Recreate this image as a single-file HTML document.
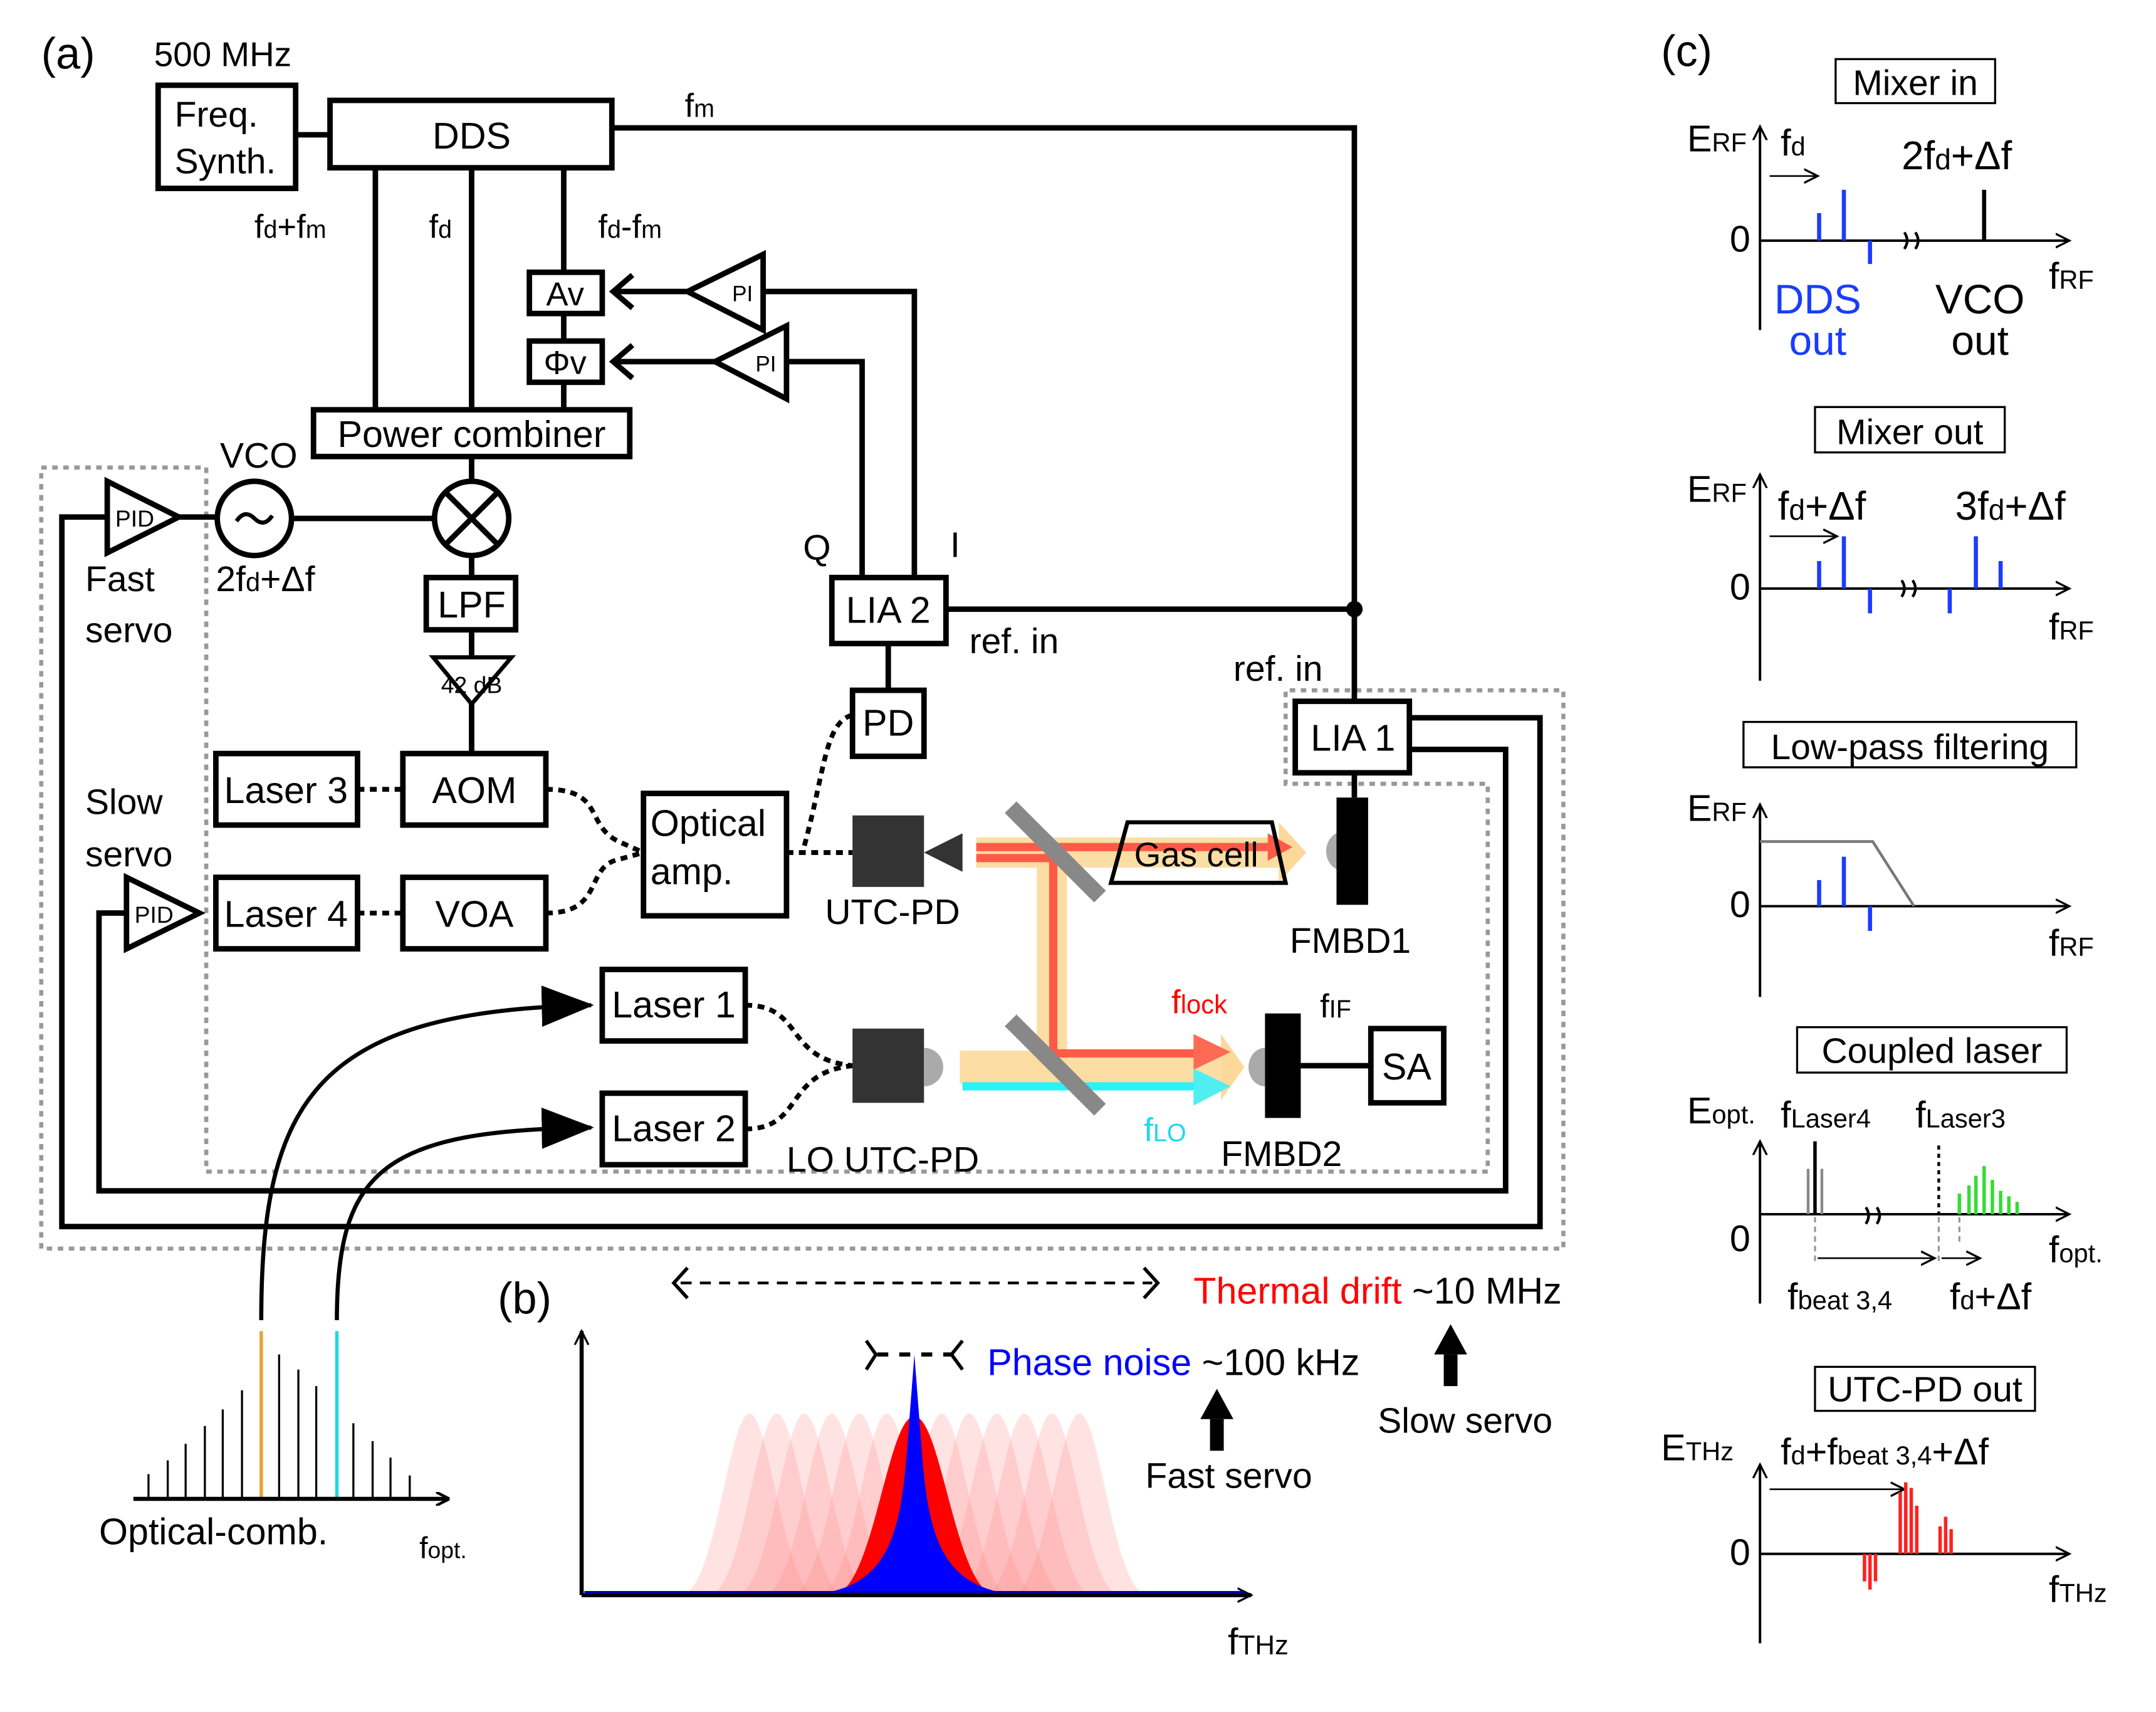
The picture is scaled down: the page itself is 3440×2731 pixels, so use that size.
<!DOCTYPE html>
<html><head><meta charset="utf-8"><style>
html,body{margin:0;padding:0;background:#fff}
svg{display:block}
text{font-family:"Liberation Sans","DejaVu Sans",sans-serif;fill:#000}
</style></head><body>
<svg width="3440" height="2731" viewBox="0 0 1568 1245" preserveAspectRatio="none" xmlns="http://www.w3.org/2000/svg">
<defs>
<marker id="ah" markerWidth="10" markerHeight="10" refX="8" refY="5" orient="auto" markerUnits="userSpaceOnUse"><path d="M0,0 L10,5 L0,10" fill="none" stroke="#000" stroke-width="2"/></marker>
<marker id="ahs" markerWidth="12" markerHeight="12" refX="10" refY="6" orient="auto" markerUnits="userSpaceOnUse"><path d="M0,1 L10,6 L0,11" fill="none" stroke="#000" stroke-width="1.5"/></marker>
<marker id="ahf" markerWidth="40" markerHeight="30" refX="36" refY="15" orient="auto" markerUnits="userSpaceOnUse"><path d="M0,0 L38,15 L0,30 Z" fill="#000"/></marker>
</defs>
<rect width="1568" height="1245" fill="#fff"/>

<!-- dotted outline -->
<path d="M30,340 H150 V852 H1082 V570 H935 V502 H1137 V908 H30 Z" fill="none" stroke="#999" stroke-width="3" stroke-dasharray="4,4"/>

<g fill="none" stroke="#000" stroke-width="4">
<!-- boxes -->
<rect x="115" y="62" width="100" height="75"/>
<rect x="240" y="73" width="205" height="49"/>
<rect x="385" y="198" width="53" height="30"/>
<rect x="385" y="248" width="53" height="30"/>
<rect x="228" y="298" width="230" height="34"/>
<rect x="310" y="420" width="65" height="38"/>
<rect x="157" y="548" width="103" height="52"/>
<rect x="293" y="548" width="104" height="52"/>
<rect x="157" y="638" width="103" height="52"/>
<rect x="293" y="638" width="104" height="52"/>
<rect x="468" y="577" width="104" height="89"/>
<rect x="620" y="502" width="52" height="48"/>
<rect x="605" y="420" width="83" height="48"/>
<rect x="942" y="510" width="83" height="52"/>
<rect x="438" y="705" width="104" height="52"/>
<rect x="438" y="795" width="104" height="52"/>
<rect x="997" y="748" width="53" height="54"/>
<!-- lines -->
<path d="M215,98 H240"/>
<path d="M445,93 H985 V510"/>
<path d="M273,122 V298 M343,122 V298 M410,122 V198 M410,228 V248 M410,278 V298"/>
<path d="M343,332 V350 M343,404 V420 M343,458 V478 M343,510 V548"/>
<path d="M212,377 H316 M130,376 H158"/>
<path d="M555,212 H665 V420 M572,263 H627 V420"/>
<path d="M500,212 H446 M520,263 H446"/>
<path d="M646,468 V502"/>
<path d="M688,443 H985"/>
<path d="M985,562 V580"/>
<path d="M946,775 H997"/>
<path d="M1025,522 H1120 V892 H45 V376 H78"/>
<path d="M1025,545 H1095 V866 H72 V664 H92"/>
<!-- triangles -->
<path d="M500,212 L555,185 L555,240 Z" fill="#fff"/>
<path d="M520,263 L572,237 L572,290 Z" fill="#fff"/>
<path d="M78,350 L78,402 L130,376 Z" fill="#fff"/>
<path d="M92,638 L92,690 L145,664 Z" fill="#fff"/>
<path d="M315,478 L372,478 L343,512 Z" fill="#fff" stroke-width="3"/>
<!-- circles -->
<circle cx="185" cy="377" r="27"/>
<circle cx="343" cy="377" r="27"/>
<path d="M324,358 L362,396 M362,358 L324,396"/>
<path d="M172,379 Q178,370 185,377 Q192,384 198,375" stroke-width="3"/>
</g>
<!-- arrowheads Av/Phi -->
<path d="M460,200 L446,212 L460,224 M460,251 L446,263 L460,275" fill="none" stroke="#000" stroke-width="4"/>
<circle cx="985" cy="443" r="6" fill="#000"/>

<!-- dotted optical fibers -->
<g fill="none" stroke="#000" stroke-width="3.5" stroke-dasharray="5,4">
<path d="M260,574 H293"/>
<path d="M260,664 H293"/>
<path d="M397,574 C440,574 425,600 450,612 L468,620"/>
<path d="M397,664 C440,664 425,630 450,625 L468,620"/>
<path d="M572,620 H620"/>
<path d="M585,615 C600,560 600,525 620,520"/>
<path d="M542,731 C585,731 570,770 620,775"/>
<path d="M542,821 C585,821 570,780 620,775"/>
</g>

<!-- beams -->
<g>
<rect x="710" y="609" width="220" height="22" fill="#fcd99a" opacity="0.9"/>
<path d="M930,598 L950,620 L930,642 Z" fill="#fcd99a"/>
<rect x="754" y="620" width="22" height="155" fill="#fcd99a" opacity="0.9"/>
<rect x="698" y="764" width="190" height="24" fill="#fcd99a" opacity="0.9"/>
<path d="M888,752 L905,776 L888,800 Z" fill="#fcd99a"/>
<rect x="710" y="613" width="215" height="6" fill="#ff5a48"/>
<path d="M922,606 L940,616 L922,626 Z" fill="#ff5a48"/>
<path d="M710,624 H766 V766 H870" fill="none" stroke="#ff5a48" stroke-width="6"/>
<path d="M868,752 L895,765 L868,778 Z" fill="#ff6a55"/>
<rect x="700" y="787" width="172" height="6" fill="#2ef0f8"/>
<path d="M868,777 L895,790 L868,804 Z" fill="#50eef0"/>
<path d="M735,587 L800,652" stroke="#888" stroke-width="12"/>
<path d="M735,742 L800,807" stroke="#888" stroke-width="12"/>
</g>
<path d="M820,598 L925,598 L935,642 L808,642 Z" fill="none" stroke="#000" stroke-width="3"/>
<!-- detectors -->
<rect x="620" y="593" width="52" height="52" fill="#333"/>
<path d="M672,620 L700,606 L700,634 Z" fill="#333"/>
<path d="M972,606 A12,14 0 0 0 972,632 Z" fill="#aaa"/>
<rect x="972" y="580" width="23" height="78" fill="#000"/>
<rect x="620" y="748" width="52" height="54" fill="#333"/>
<path d="M672,762 A14,14 0 0 1 672,790 Z" fill="#aaa"/>
<path d="M920,762 A12,14 0 0 0 920,790 Z" fill="#aaa"/>
<rect x="920" y="737" width="26" height="76" fill="#000"/>

<!-- texts (a) -->
<g font-size="27">
<text x="30" y="50" font-size="32">(a)</text>
<text x="112" y="48" font-size="25">500 MHz</text>
<text x="127" y="92" font-size="26">Freq.</text>
<text x="127" y="126" font-size="26">Synth.</text>
<text x="343" y="108" text-anchor="middle">DDS</text>
<text x="498" y="85" font-size="24">f<tspan font-size="18">m</tspan></text>
<text x="185" y="173" font-size="24">f<tspan font-size="18">d</tspan>+f<tspan font-size="18">m</tspan></text>
<text x="312" y="173" font-size="24">f<tspan font-size="18">d</tspan></text>
<text x="435" y="173" font-size="24">f<tspan font-size="18">d</tspan>-f<tspan font-size="18">m</tspan></text>
<text x="411" y="222" font-size="24" text-anchor="middle">Av</text>
<text x="411" y="272" font-size="24" text-anchor="middle">Φv</text>
<text x="540" y="219" font-size="16" text-anchor="middle">PI</text>
<text x="557" y="270" font-size="16" text-anchor="middle">PI</text>
<text x="343" y="325" text-anchor="middle">Power combiner</text>
<text x="160" y="340" font-size="26">VCO</text>
<text x="98" y="383" font-size="17" text-anchor="middle">PID</text>
<text x="112" y="671" font-size="17" text-anchor="middle">PID</text>
<text x="62" y="430" font-size="26">Fast</text>
<text x="62" y="467" font-size="26">servo</text>
<text x="157" y="430" font-size="26">2f<tspan font-size="19">d</tspan>+Δf</text>
<text x="343" y="449" text-anchor="middle">LPF</text>
<text x="343" y="504" font-size="17" text-anchor="middle">42 dB</text>
<text x="345" y="584" text-anchor="middle">AOM</text>
<text x="208" y="584" text-anchor="middle">Laser 3</text>
<text x="208" y="674" text-anchor="middle">Laser 4</text>
<text x="345" y="674" text-anchor="middle">VOA</text>
<text x="62" y="592" font-size="26">Slow</text>
<text x="62" y="630" font-size="26">servo</text>
<text x="473" y="608">Optical</text>
<text x="473" y="643">amp.</text>
<text x="646" y="535" text-anchor="middle">PD</text>
<text x="646" y="453" text-anchor="middle">LIA 2</text>
<text x="584" y="407" font-size="26">Q</text>
<text x="691" y="405" font-size="26">I</text>
<text x="705" y="475" font-size="26">ref. in</text>
<text x="897" y="495" font-size="26">ref. in</text>
<text x="984" y="546" text-anchor="middle">LIA 1</text>
<text x="600" y="672" font-size="26">UTC-PD</text>
<text x="870" y="630" font-size="25" text-anchor="middle">Gas cell</text>
<text x="938" y="693" font-size="26">FMBD1</text>
<text x="490" y="740" text-anchor="middle">Laser 1</text>
<text x="490" y="830" text-anchor="middle">Laser 2</text>
<text x="572" y="852" font-size="26">LO UTC-PD</text>
<text x="852" y="737" font-size="24" style="fill:#f00">f<tspan font-size="19">lock</tspan></text>
<text x="960" y="740" font-size="24">f<tspan font-size="18">IF</tspan></text>
<text x="1023" y="785" text-anchor="middle">SA</text>
<text x="832" y="830" font-size="24" style="fill:#1cd8f0">f<tspan font-size="18">LO</tspan></text>
<text x="888" y="848" font-size="26">FMBD2</text>
</g>

<!-- comb -->
<g stroke="#000" stroke-width="1.5">
<line x1="108" y1="1090" x2="108" y2="1072"/><line x1="122" y1="1090" x2="122" y2="1062"/>
<line x1="135" y1="1090" x2="135" y2="1050"/><line x1="149" y1="1090" x2="149" y2="1037"/>
<line x1="162" y1="1090" x2="162" y2="1025"/><line x1="176" y1="1090" x2="176" y2="1011"/>
<line x1="203" y1="1090" x2="203" y2="985"/><line x1="217" y1="1090" x2="217" y2="996"/>
<line x1="230" y1="1090" x2="230" y2="1008"/><line x1="257" y1="1090" x2="257" y2="1035"/>
<line x1="271" y1="1090" x2="271" y2="1048"/><line x1="284" y1="1090" x2="284" y2="1060"/>
<line x1="298" y1="1090" x2="298" y2="1073"/>
</g>
<line x1="190" y1="1090" x2="190" y2="968" stroke="#e8a33a" stroke-width="2.5"/>
<line x1="245" y1="1090" x2="245" y2="968" stroke="#20d8e0" stroke-width="2.5"/>
<path d="M97,1090 H325" stroke="#000" stroke-width="3" fill="none" marker-end="url(#ah)"/>
<path d="M190,960 C190,800 230,735 430,731" fill="none" stroke="#000" stroke-width="3" marker-end="url(#ahf)"/>
<path d="M245,960 C245,850 280,822 430,820" fill="none" stroke="#000" stroke-width="3" marker-end="url(#ahf)"/>
<text x="72" y="1123" font-size="27">Optical-comb.</text>
<text x="305" y="1133" font-size="22">f<tspan font-size="17">opt.</tspan></text>

<!-- (b) -->
<text x="362" y="955" font-size="32">(b)</text>
<g fill="#ff8080" fill-opacity="0.22">
<path d="M495,1160 C520,1160 530,1028 545,1028 C560,1028 570,1160 595,1160Z"/>
<path d="M515,1160 C540,1160 550,1028 565,1028 C580,1028 590,1160 615,1160Z"/>
<path d="M535,1160 C560,1160 570,1028 585,1028 C600,1028 610,1160 635,1160Z"/>
<path d="M555,1160 C580,1160 590,1028 605,1028 C620,1028 630,1160 655,1160Z"/>
<path d="M575,1160 C600,1160 610,1028 625,1028 C640,1028 650,1160 675,1160Z"/>
<path d="M595,1160 C620,1160 630,1028 645,1028 C660,1028 670,1160 695,1160Z"/>
<path d="M635,1160 C660,1160 670,1028 685,1028 C700,1028 710,1160 735,1160Z"/>
<path d="M655,1160 C680,1160 690,1028 705,1028 C720,1028 730,1160 755,1160Z"/>
<path d="M675,1160 C700,1160 710,1028 725,1028 C740,1028 750,1160 775,1160Z"/>
<path d="M695,1160 C720,1160 730,1028 745,1028 C760,1028 770,1160 795,1160Z"/>
<path d="M715,1160 C740,1160 750,1028 765,1028 C780,1028 790,1160 815,1160Z"/>
<path d="M735,1160 C760,1160 770,1028 785,1028 C800,1028 810,1160 835,1160Z"/>
</g>
<path d="M605,1160 C635,1160 645,1030 665,1030 C685,1030 695,1160 725,1160Z" fill="#ff0000"/>
<path d="M585,1160 C645,1157 655,1120 660,1050 L665,985 L670,1050 C675,1120 685,1157 745,1160Z" fill="#0000ff"/>
<path d="M423,1160 V968" stroke="#000" stroke-width="3" fill="none" marker-end="url(#ahs)"/>
<path d="M423,1160 H910" stroke="#000" stroke-width="3" fill="none" marker-end="url(#ahs)"/>
<line x1="425" y1="1158" x2="905" y2="1158" stroke="#00a" stroke-width="2"/>
<path d="M500,922 L490,933 L500,944 M832,922 L842,933 L832,944" fill="none" stroke="#000" stroke-width="2.5"/>
<line x1="495" y1="933" x2="838" y2="933" stroke="#000" stroke-width="2" stroke-dasharray="8,6"/>
<path d="M630,975 L637,985 L630,996 M700,975 L692,985 L700,996" fill="none" stroke="#000" stroke-width="2.5"/>
<line x1="638" y1="985" x2="692" y2="985" stroke="#000" stroke-width="3" stroke-dasharray="8,8"/>
<text x="868" y="948" font-size="27"><tspan style="fill:#f00">Thermal drift</tspan> ~10 MHz</text>
<text x="718" y="1000" font-size="27"><tspan style="fill:#00f">Phase noise</tspan> ~100 kHz</text>
<path d="M1055,1008 V985" stroke="#000" stroke-width="10"/>
<path d="M1043,985 L1055,963 L1067,985Z" fill="#000"/>
<path d="M885,1055 V1032" stroke="#000" stroke-width="10"/>
<path d="M873,1032 L885,1010 L897,1032Z" fill="#000"/>
<text x="1002" y="1042" font-size="26">Slow servo</text>
<text x="833" y="1082" font-size="26">Fast servo</text>
<text x="893" y="1203" font-size="27">f<tspan font-size="20">THz</tspan></text>

<!-- (c) -->
<text x="1208" y="48" font-size="32">(c)</text>
<g font-size="26">
<rect x="1335" y="43" width="116" height="32" fill="none" stroke="#000" stroke-width="1.5"/>
<text x="1393" y="69" text-anchor="middle">Mixer in</text>
<rect x="1320" y="296" width="138" height="33" fill="none" stroke="#000" stroke-width="1.5"/>
<text x="1389" y="323" text-anchor="middle">Mixer out</text>
<rect x="1268" y="525" width="242" height="33" fill="none" stroke="#000" stroke-width="1.5"/>
<text x="1389" y="552" text-anchor="middle">Low-pass filtering</text>
<rect x="1307" y="747" width="196" height="33" fill="none" stroke="#000" stroke-width="1.5"/>
<text x="1405" y="773" text-anchor="middle">Coupled laser</text>
<rect x="1320" y="994" width="160" height="32" fill="none" stroke="#000" stroke-width="1.5"/>
<text x="1400" y="1019" text-anchor="middle">UTC-PD out</text>
</g>
<g fill="none" stroke="#000" stroke-width="1.8">
<path d="M1280,240 V92" marker-end="url(#ahs)"/><path d="M1280,175 H1505" marker-end="url(#ahs)"/>
<path d="M1280,495 V345" marker-end="url(#ahs)"/><path d="M1280,428 H1505" marker-end="url(#ahs)"/>
<path d="M1280,725 V585" marker-end="url(#ahs)"/><path d="M1280,659 H1505" marker-end="url(#ahs)"/>
<path d="M1280,948 V830" marker-end="url(#ahs)"/><path d="M1280,883 H1505" marker-end="url(#ahs)"/>
<path d="M1280,1195 V1065" marker-end="url(#ahs)"/><path d="M1280,1130 H1505" marker-end="url(#ahs)"/>
<path d="M1287,128 H1322" stroke-width="1.2" marker-end="url(#ahs)"/>
<path d="M1287,390 H1336" stroke-width="1.2" marker-end="url(#ahs)"/>
<path d="M1287,1083 H1385" stroke-width="1.2" marker-end="url(#ahs)"/>
<path d="M1322,915 H1407" stroke-width="1.2" marker-end="url(#ahs)"/>
<path d="M1412,915 H1440" stroke-width="1.2" marker-end="url(#ahs)"/>
<path d="M1280,612 H1362 L1392,659" stroke="#777" stroke-width="2"/>
</g>
<g stroke="#1a3cff" stroke-width="3">
<path d="M1323,155V175 M1341,138V175 M1360,175V192"/>
<path d="M1323,408V428 M1341,390V428 M1360,428V446 M1418,428V446 M1437,390V428 M1455,408V428"/>
<path d="M1323,640V659 M1341,623V659 M1360,659V677"/>
</g>
<line x1="1443" y1="138" x2="1443" y2="175" stroke="#000" stroke-width="3"/>
<g fill="none" stroke="#000" stroke-width="2">
<path d="M1385,168 q4,-6 0,-12 M1393,168 q4,-6 0,-12" transform="translate(0,13)"/>
<path d="M1383,434 q4,-6 0,-12 M1391,434 q4,-6 0,-12"/>
<path d="M1357,890 q4,-6 0,-12 M1365,890 q4,-6 0,-12"/>
</g>
<!-- coupled laser lines -->
<g stroke="#888" stroke-width="2"><path d="M1315,850V883 M1320,850V883 M1325,850V883"/></g>
<line x1="1320" y1="830" x2="1320" y2="883" stroke="#000" stroke-width="2.5"/>
<line x1="1410" y1="833" x2="1410" y2="883" stroke="#000" stroke-width="2" stroke-dasharray="3,3"/>
<g stroke="#33dd33" stroke-width="2.5"><path d="M1425,868V883 M1432,862V883 M1437,855V883 M1443,848V883 M1449,858V883 M1455,866V883 M1461,870V883 M1467,874V883"/></g>
<g stroke="#999" stroke-width="1.5" stroke-dasharray="4,3"><path d="M1320,885V920 M1410,885V920 M1425,885V905"/></g>
<!-- utc out red -->
<g stroke="#ff2020" stroke-width="2.5"><path d="M1356,1130V1150 M1360,1130V1156 M1364,1130V1150 M1382,1130V1085 M1386,1130V1078 M1390,1130V1082 M1394,1130V1095 M1411,1130V1110 M1415,1130V1103 M1419,1130V1112"/></g>
<g font-size="27">
<text x="1227" y="110">E<tspan font-size="19">RF</tspan></text>
<text x="1295" y="113">f<tspan font-size="19">d</tspan></text>
<text x="1383" y="123" font-size="29">2f<tspan font-size="21">d</tspan>+Δf</text>
<text x="1258" y="183">0</text>
<text x="1322" y="228" text-anchor="middle" font-size="30" style="fill:#1a3cff">DDS</text>
<text x="1322" y="258" text-anchor="middle" font-size="30" style="fill:#1a3cff">out</text>
<text x="1440" y="228" text-anchor="middle" font-size="30">VCO</text>
<text x="1440" y="258" text-anchor="middle" font-size="30">out</text>
<text x="1490" y="210">f<tspan font-size="19">RF</tspan></text>
<text x="1227" y="365">E<tspan font-size="19">RF</tspan></text>
<text x="1293" y="378" font-size="29">f<tspan font-size="21">d</tspan>+Δf</text>
<text x="1422" y="378" font-size="29">3f<tspan font-size="21">d</tspan>+Δf</text>
<text x="1258" y="436">0</text>
<text x="1490" y="465">f<tspan font-size="19">RF</tspan></text>
<text x="1227" y="597">E<tspan font-size="19">RF</tspan></text>
<text x="1258" y="667">0</text>
<text x="1490" y="695">f<tspan font-size="19">RF</tspan></text>
<text x="1227" y="817">E<tspan font-size="19">opt.</tspan></text>
<text x="1295" y="820">f<tspan font-size="19">Laser4</tspan></text>
<text x="1393" y="820">f<tspan font-size="19">Laser3</tspan></text>
<text x="1258" y="910">0</text>
<text x="1490" y="918">f<tspan font-size="19">opt.</tspan></text>
<text x="1300" y="952">f<tspan font-size="19">beat 3,4</tspan></text>
<text x="1418" y="952">f<tspan font-size="19">d</tspan>+Δf</text>
<text x="1208" y="1062">E<tspan font-size="19">THz</tspan></text>
<text x="1295" y="1065">f<tspan font-size="19">d</tspan>+f<tspan font-size="19">beat 3,4</tspan>+Δf</text>
<text x="1258" y="1138">0</text>
<text x="1490" y="1165">f<tspan font-size="19">THz</tspan></text>
</g>
</svg>
</body></html>
